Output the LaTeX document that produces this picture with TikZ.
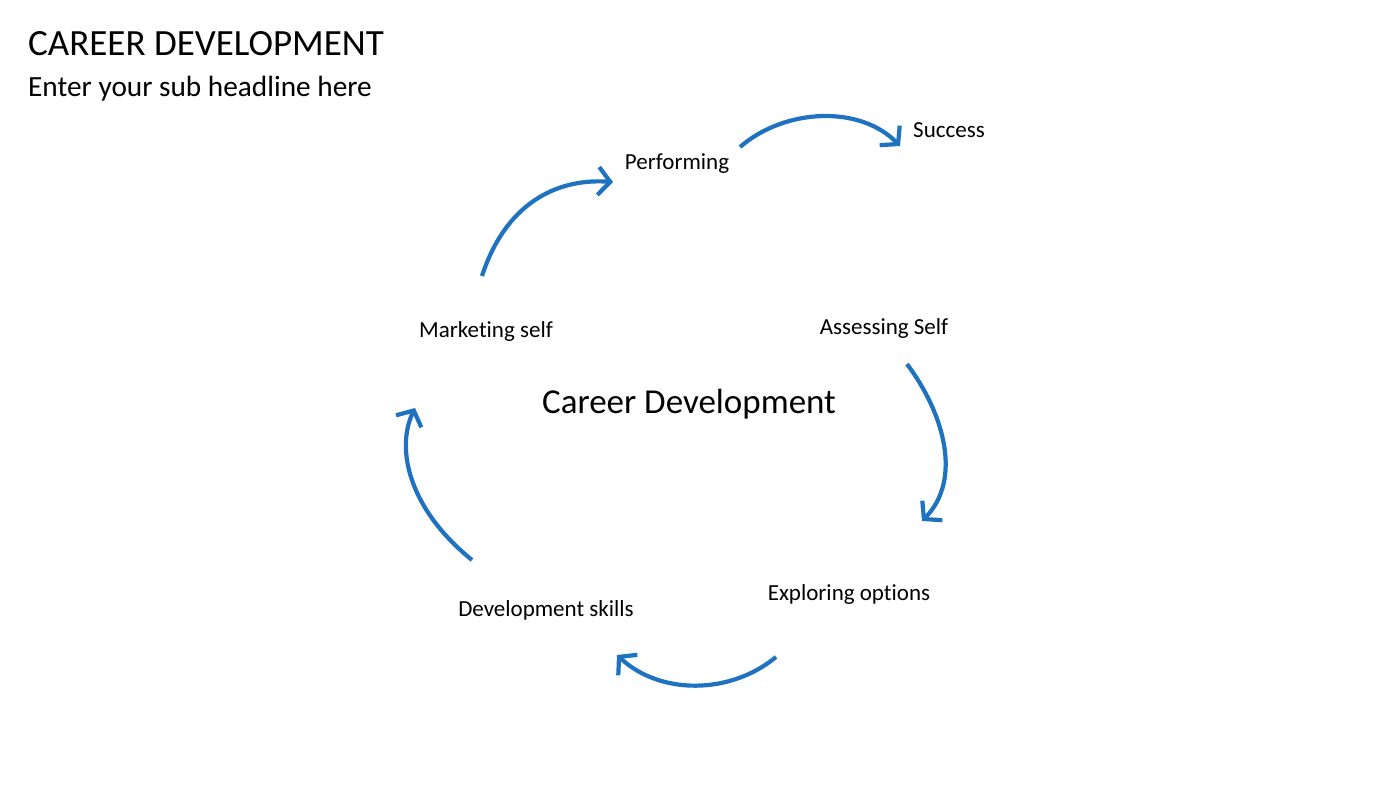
\documentclass[tikz,border=0pt]{standalone}
\usepackage{fontspec}
\setmainfont[Ligatures=NoCommon]{Carlito}
\usetikzlibrary{arrows.meta}
\definecolor{cblue}{RGB}{31,114,192}
\tikzset{
  lbl/.style={inner sep=0pt, font=\fontsize{23}{26}\selectfont, text=black},
  cyc/.style={draw=cblue, line width=4.2pt, -{Straight Barb[length=12pt,width=28pt,line width=4.2pt]}}
}
\begin{document}
\begin{tikzpicture}[x=1pt,y=-1pt]
\useasboundingbox (0,0) rectangle (1400,788);
\node[anchor=west, inner sep=0pt, font=\fontsize{37}{40}\selectfont] (title) at (28,44) {CAREER DEVELOPMENT};
\node[anchor=west, inner sep=0pt, font=\fontsize{29.3}{32}\selectfont] (sub) at (28,89) {Enter your sub headline here};
\node[lbl] (perf) at (677,164) {Performing};
\node[lbl] (succ) at (949,130) {Success};
\node[lbl] (mark) at (486,331) {Marketing self};
\node[lbl] (asse) at (884,328) {Assessing Self};
\node[inner sep=0pt, font=\fontsize{35}{38}\selectfont] (center) at (689,404) {Career Development};
\node[lbl] (expl) at (849,594) {Exploring options};
\node[lbl] (devs) at (546,610) {Development skills};
\coordinate (a1s) at (482,276); \coordinate (a1e) at (613,182);
\coordinate (a2s) at (740,147); \coordinate (a2e) at (900,146);
\coordinate (a3s) at (907,364); \coordinate (a3e) at (922,521);
\coordinate (a4s) at (776,657); \coordinate (a4e) at (617,655);
\coordinate (a5s) at (472,560); \coordinate (a5e) at (415,408);
\draw[cyc] (a1s) .. controls (505,205) and (555,178) .. (a1e);
\draw[cyc] (a2s) .. controls (785,108) and (860,105) .. (a2e);
\draw[cyc] (a3s) .. controls (945,415) and (962,480) .. (a3e);
\draw[cyc] (a4s) .. controls (730,695) and (660,695) .. (a4e);
\draw[cyc] (a5s) .. controls (410,510) and (395,450) .. (a5e);
\end{tikzpicture}
\end{document}
